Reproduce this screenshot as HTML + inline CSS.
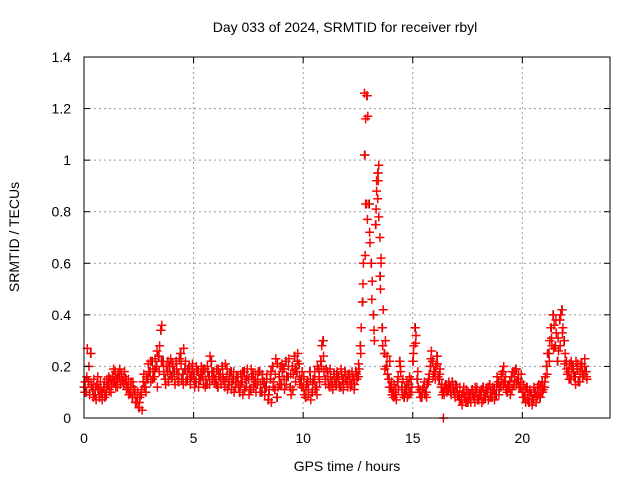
<!DOCTYPE html>
<html><head><meta charset="utf-8"><style>
body{margin:0;background:#fff}
svg text{font-family:"Liberation Sans",sans-serif;font-size:14px;fill:#000}
</style></head><body>
<svg id="chart" width="640" height="480" xmlns="http://www.w3.org/2000/svg">
<rect width="640" height="480" fill="#fff"/>
<g id="grid"></g>
<g id="marks"></g>
<rect x="84" y="57" width="526" height="361" fill="none" stroke="#000" stroke-width="1"/>
<g id="axes"></g>
<text x="345" y="32" text-anchor="middle">Day 033 of 2024, SRMTID for receiver rbyl</text>
<text x="347" y="471" text-anchor="middle">GPS time / hours</text>
<text x="19" y="237" text-anchor="middle" transform="rotate(-90 19 237)">SRMTID / TECUs</text>
</svg>
<script>
const xTicks=[0,5,10,15,20];
const yTicks=[0,0.2,0.4,0.6,0.8,1,1.2,1.4];
const yTickLabels=["0","0.2","0.4","0.6","0.8","1","1.2","1.4"];
const valsA=[
0.12,0.10,0.14,0.25,0.11,0.09,0.13,0.08,0.10,0.12,
0.09,0.13,0.15,0.16,0.14,0.15,0.16,0.17,0.13,0.15,
0.12,0.10,0.08,0.11,0.06,0.04,0.09,0.14,0.12,0.15,
0.18,0.22,0.16,0.20,0.24,0.34,0.22,0.15,0.18,0.20,
0.16,0.18,0.22,0.14,0.25,0.17,0.19,0.15,0.20,0.16,
0.17,0.14,0.18,0.15,0.16,0.19,0.13,0.16,0.22,0.18,
0.15,0.12,0.17,0.20,0.14,0.16,0.13,0.18,0.15,0.12,
0.16,0.10,0.14,0.18,0.12,0.15,0.11,0.17,0.14,0.13,
0.18,0.10,0.14,0.12,0.07,0.15,0.20,0.11,0.08,0.16,
0.13,0.19,0.22,0.16,0.12,0.20,0.24,0.18,0.21,0.15,
0.12,0.08,0.14,0.18,0.10,0.15,0.12,0.19,0.22,0.30,
0.15,0.18,0.12,0.14,0.17,0.13,0.16,0.12,0.15,0.18,
0.14,0.17,0.13,0.15,0.18,0.16,0.28,0.45,1.02,1.25,
0.83,0.60,0.40,0.75,0.95,0.55,0.35,0.25,0.20,0.15,
0.12,0.10,0.09,0.14,0.22,0.12,0.08,0.11,0.13,0.10,
0.22,0.35,0.15,0.10,0.08,0.12,0.10,0.14,0.20,0.22,
0.18,0.24,0.15,0.12,0.10,0.13,0.11,0.12,0.14,0.10,
0.12,0.09,0.07,0.10,0.08,0.06,0.09,0.11,0.08,0.10,
0.07,0.09,0.12,0.08,0.10,0.13,0.08,0.11,0.09,0.14,
0.12,0.18,0.14,0.10,0.12,0.16,0.13,0.19,0.15,0.12,
0.10,0.08,0.12,0.06,0.09,0.07,0.10,0.12,0.08,0.14,
0.12,0.20,0.25,0.35,0.40,0.28,0.22,0.38,0.42,0.30,
0.22,0.18,0.15,0.20,0.16,0.19,0.14,0.21,0.17,0.18];
const valsB=[
0.14,0.27,0.09,0.12,0.15,0.07,0.11,0.14,0.09,0.08,
0.15,0.11,0.13,0.19,0.12,0.17,0.13,0.14,0.18,0.11,
0.09,0.14,0.12,0.06,0.10,0.08,0.03,0.12,0.16,0.18,
0.14,0.18,0.23,0.12,0.28,0.36,0.17,0.20,0.14,0.23,
0.20,0.13,0.17,0.23,0.15,0.27,0.14,0.19,0.13,0.21,
0.12,0.18,0.15,0.20,0.13,0.15,0.18,0.24,0.15,0.14,
0.19,0.16,0.13,0.15,0.21,0.11,0.17,0.14,0.10,0.16,
0.12,0.17,0.09,0.15,0.19,0.11,0.16,0.13,0.10,0.18,
0.13,0.15,0.09,0.17,0.11,0.06,0.14,0.23,0.12,0.20,
0.18,0.11,0.16,0.23,0.09,0.17,0.14,0.25,0.13,0.18,
0.09,0.13,0.11,0.07,0.15,0.11,0.20,0.14,0.28,0.18,
0.19,0.13,0.16,0.11,0.14,0.18,0.12,0.17,0.13,0.15,
0.17,0.12,0.16,0.13,0.15,0.19,0.35,0.60,0.83,1.17,
0.68,0.53,0.30,0.88,0.98,0.62,0.42,0.30,0.17,0.22,
0.09,0.13,0.07,0.11,0.18,0.15,0.10,0.08,0.16,0.12,
0.28,0.32,0.12,0.08,0.11,0.09,0.13,0.17,0.26,0.18,
0.20,0.16,0.19,0.09,0.12,0.10,0.14,0.09,0.11,0.13,
0.09,0.12,0.05,0.08,0.11,0.08,0.06,0.09,0.12,0.07,
0.10,0.06,0.09,0.11,0.07,0.10,0.12,0.09,0.16,0.11,
0.15,0.20,0.11,0.13,0.09,0.18,0.16,0.14,0.12,0.17,
0.13,0.06,0.09,0.11,0.05,0.10,0.08,0.13,0.10,0.11,
0.16,0.25,0.30,0.28,0.36,0.33,0.26,0.40,0.35,0.25,
0.17,0.21,0.19,0.16,0.22,0.14,0.20,0.16,0.23,0.15];
const valsC=[
0.10,0.16,0.20,0.13,0.08,0.12,0.16,0.11,0.07,0.14,
0.12,0.16,0.10,0.14,0.18,0.12,0.19,0.15,0.16,0.13,
0.15,0.12,0.14,0.09,0.08,0.06,0.11,0.17,0.10,0.21,
0.22,0.15,0.19,0.26,0.18,0.22,0.20,0.13,0.22,0.17,
0.21,0.15,0.19,0.17,0.21,0.13,0.22,0.18,0.16,0.19,
0.15,0.20,0.12,0.17,0.19,0.12,0.20,0.13,0.18,0.16,
0.13,0.19,0.15,0.17,0.12,0.19,0.15,0.11,0.18,0.14,
0.14,0.13,0.18,0.11,0.16,0.09,0.19,0.12,0.17,0.15,
0.10,0.17,0.12,0.15,0.09,0.18,0.12,0.17,0.21,0.13,
0.21,0.15,0.13,0.20,0.17,0.11,0.19,0.22,0.16,0.12,
0.16,0.11,0.09,0.15,0.13,0.18,0.09,0.16,0.20,0.24,
0.13,0.16,0.19,0.12,0.15,0.17,0.14,0.19,0.11,0.16,
0.12,0.15,0.18,0.11,0.17,0.21,0.25,0.52,0.63,0.77,
0.72,0.46,0.34,0.81,0.92,0.50,0.28,0.19,0.24,0.12,
0.14,0.08,0.11,0.16,0.20,0.09,0.12,0.14,0.09,0.15,
0.25,0.29,0.18,0.11,0.10,0.14,0.08,0.15,0.23,0.16,
0.15,0.21,0.17,0.13,0.09,0.11,0.13,0.10,0.12,0.08,
0.10,0.07,0.09,0.12,0.06,0.10,0.07,0.10,0.06,0.12,
0.09,0.11,0.07,0.10,0.12,0.08,0.11,0.07,0.13,0.09,
0.17,0.13,0.16,0.12,0.14,0.11,0.18,0.13,0.17,0.14,
0.08,0.11,0.07,0.10,0.07,0.12,0.06,0.09,0.12,0.10,
0.14,0.17,0.22,0.31,0.27,0.38,0.31,0.28,0.33,0.21,
0.19,0.15,0.22,0.18,0.13,0.21,0.17,0.18,0.20,0.16];
const extraTimes=[12.8,12.85,12.9,13.35,13.4,13.45,13.5,13.55,16.4];
const extraVals=[1.26,1.16,0.83,0.92,0.85,0.78,0.70,0.60,0.0];
const STEP=0.1;
const X0=84,X1=610,Y0=418,Y1=57,XMAX=24,YMAX=1.4;
function sx(v){return X0+(X1-X0)*v/XMAX;}
function sy(v){return Y0-(Y0-Y1)*v/YMAX;}
const NS="http://www.w3.org/2000/svg";
const grid=document.getElementById('grid'),axes=document.getElementById('axes'),marks=document.getElementById('marks');
function ln(p,x1,y1,x2,y2,st,dash){const l=document.createElementNS(NS,'line');l.setAttribute('x1',x1);l.setAttribute('y1',y1);l.setAttribute('x2',x2);l.setAttribute('y2',y2);l.setAttribute('stroke',st);if(dash)l.setAttribute('stroke-dasharray',dash);p.appendChild(l);return l;}
function tx(x,y,s,anchor){const t=document.createElementNS(NS,'text');t.setAttribute('x',x);t.setAttribute('y',y);t.setAttribute('text-anchor',anchor);t.textContent=s;axes.appendChild(t);return t;}
xTicks.forEach(v=>{const x=sx(v);
 if(v>0){const g=ln(grid,x,Y1,x,Y0,'#999','2,3');}
 ln(axes,x,Y0,x,Y0-6,'#000');ln(axes,x,Y1,x,Y1+6,'#000');
 const t=tx(x,443,String(v),'middle');
 
 });
yTicks.forEach((v,i)=>{const y=sy(v);
 if(v>0&&v<YMAX){const g=ln(grid,X0,y,X1,y,'#999','2,3');}
 ln(axes,X0,y,X0+6,y,'#000');ln(axes,X1,y,X1-6,y,'#000');
 const t=tx(71,y+5,yTickLabels[i],'end');
 
 });
let dBlack='',dRed='';
function cross(x,y){return `M${(x-4.5).toFixed(1)} ${y.toFixed(1)}h9M${x.toFixed(1)} ${(y-4.5).toFixed(1)}v9`;}
valsA.forEach((v,i)=>{dBlack+=cross(sx(i*STEP+0.02),sy(v));});
valsA.forEach((v,i)=>{dRed+=cross(sx(i*STEP),sy(v));});
valsB.forEach((v,i)=>{dRed+=cross(sx(i*STEP+0.05),sy(v));});
valsC.forEach((v,i)=>{dRed+=cross(sx(i*STEP+0.03),sy(v));});
extraTimes.forEach((t,i)=>{dRed+=cross(sx(t),sy(extraVals[i]));});
const pb=document.createElementNS(NS,'path');pb.setAttribute('d',dBlack);pb.setAttribute('stroke','#000');pb.setAttribute('stroke-width','1.2');pb.setAttribute('fill','none');


marks.appendChild(pb);
const pr=document.createElementNS(NS,'path');pr.setAttribute('d',dRed);pr.setAttribute('stroke','#f00');pr.setAttribute('stroke-width','1.5');pr.setAttribute('fill','none');


marks.appendChild(pr);
</script>
</body></html>
